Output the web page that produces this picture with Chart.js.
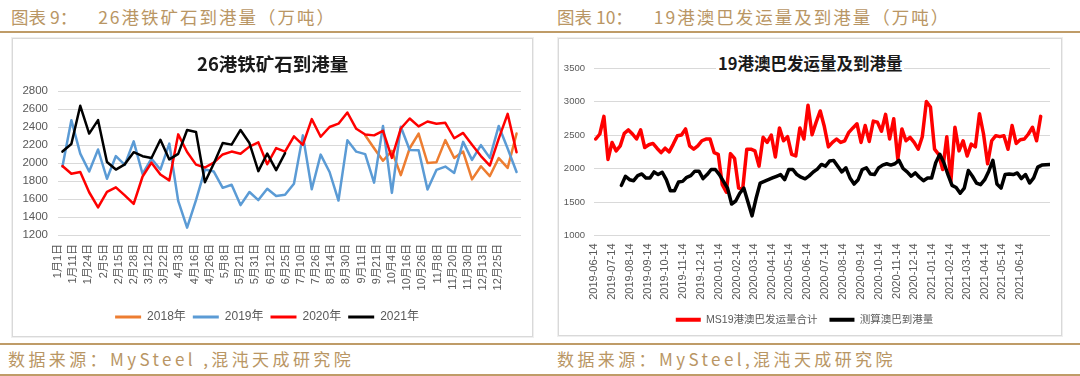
<!DOCTYPE html>
<html>
<head>
<meta charset="utf-8">
<script src="https://cdn.jsdelivr.net/npm/chart.js@4.4.1/dist/chart.umd.min.js"></script>
<style>
  html, body { margin: 0; padding: 0; background: #fff; }
  body { width: 1080px; height: 376px; position: relative; overflow: hidden; font-family: 'Noto Sans CJK SC', sans-serif; }
  .head { position: absolute; top: 5px; font-size: 17.5px; color: #b99664; white-space: nowrap; line-height: 24px; }
  .head span { letter-spacing: 2px; }
  .rule { position: absolute; left: 0; width: 1080px; height: 2px; background: #bf9c68; }
  .box { position: absolute; border: 1px solid #d9d9d9; box-shadow: 0 0 0 1px #efefef; background: #fff; }
  .box canvas { position: absolute; left: 0; top: 0; }
  .ctitle { position: absolute; font-weight: bold; color: #1a1a1a; white-space: nowrap; background: #fff; line-height: 24px; padding: 0 2px; }
  .foot { position: absolute; top: 347px; font-size: 17px; letter-spacing: 3.4px; color: #b99664; white-space: nowrap; line-height: 24px; }
</style>
</head>
<body>
<div class="head" style="left:11px">图表 9：<span style="margin-left:21px">26港铁矿石到港量（万吨）</span></div>
<div class="head" style="left:557px">图表 10：<span style="margin-left:21px">19港澳巴发运量及到港量（万吨）</span></div>
<div class="rule" style="top:31px"></div>

<div class="box" style="left:12px;top:38px;width:519px;height:297px">
  <canvas id="portChart" width="519" height="297"></canvas>
  <div class="ctitle" style="left:182px;top:12px;font-size:18.5px">26港铁矿石到港量</div>
</div>
<div class="box" style="left:558px;top:38px;width:502px;height:296px">
  <canvas id="ausBraChart" width="502" height="296"></canvas>
  <div class="ctitle" style="left:157px;top:12px;font-size:16.5px">19港澳巴发运量及到港量</div>
</div>

<div class="rule" style="top:343px"></div>
<div class="foot" style="left:8px">数据来源：MySteel ,混沌天成研究院</div>
<div class="foot" style="left:557px">数据来源：MySteel,混沌天成研究院</div>
<div class="rule" style="top:374px"></div>

<script>
// ---- 图表9 数据：26港铁矿石到港量（万吨），周度 ----
const dateLabels = ['1月1日', '1月11日', '1月24日', '2月5日', '2月15日', '2月28日', '3月12日', '3月22日',
  '4月3日', '4月16日', '4月26日', '5月8日', '5月21日', '5月31日', '6月12日', '6月25日', '7月10日', '7月26日',
  '8月14日', '8月30日', '9月11日', '9月21日', '10月4日', '10月16日', '10月26日', '11月8日', '11月20日',
  '11月30日', '12月13日', '12月25日'];
const portTicks = [1200, 1400, 1600, 1800, 2000, 2200, 2400, 2600, 2800];

const WEEKS = 52;
const LABEL_SLOTS = 30.5; // Excel 文本轴：30个标签均匀铺在约30.5格宽度上

const y2018 = [2309, 2164, 2025, 2135, 1865, 2164, 2327, 2000, 2007, 2254, 2055, 2127, 1818, 1964, 1855,
  2055, 1945, 2327];
const y2018Start = 34; // 2018年只有下半年数据
const y2019 = [1962, 2476, 2104, 1905, 2150, 1825, 2077, 1978, 2240, 1878, 2048, 1927, 2216, 1579, 1282,
  1588, 1927, 1905, 1724, 1758, 1532, 1678, 1588, 1714, 1634, 1648, 1770, 2307, 1709, 2093, 1900, 1583,
  2252, 2126, 2099, 1782, 2412, 1668, 2403, 2144, 2143, 1705, 1923, 1960, 1890, 2235, 2035, 2198, 2057,
  2412, 2162, 1900];
const y2020 = [1966, 1880, 1900, 1675, 1506, 1680, 1729, 1640, 1546, 1850, 2004, 1872, 1807, 2318, 2122,
  1982, 1950, 2004, 2095, 2127, 2102, 2182, 2229, 1986, 2166, 2126, 2296, 2202, 2488, 2292, 2400, 2437,
  2561, 2380, 2316, 2307, 2358, 2057, 2383, 2494, 2407, 2461, 2436, 2447, 2275, 2334, 2202, 2077, 1972,
  2271, 2546, 2120];
const y2021 = [2127, 2211, 2636, 2327, 2476, 2011, 1927, 1985, 2120, 2076, 2055, 2258, 2040, 2102, 2367,
  2345, 1786, 1995, 2222, 2204, 2367, 2222, 1910, 2105, 1920, 2109];

// ---- 图表10 数据：19港澳巴发运量及到港量（万吨），周度 ----
const monthLabels = ['2019-06-14', '2019-07-14', '2019-08-14', '2019-09-14', '2019-10-14', '2019-11-14',
  '2019-12-14', '2020-01-14', '2020-02-14', '2020-03-14', '2020-04-14', '2020-05-14', '2020-06-14',
  '2020-07-14', '2020-08-14', '2020-09-14', '2020-10-14', '2020-11-14', '2020-12-14', '2021-01-14',
  '2021-02-14', '2021-03-14', '2021-04-14', '2021-05-14', '2021-06-14'];
const shipTicks = [1000, 1500, 2000, 2500, 3000, 3500];

const shipStart = '2019-06-17';
const shipments = [2440, 2515, 2778, 2136, 2389, 2263, 2338, 2525, 2576, 2515, 2440, 2576, 2313, 2354, 2374,
  2303, 2237, 2303, 2248, 2364, 2490, 2500, 2591, 2338, 2288, 2338, 2414, 2440, 2440, 2237, 2212, 1758,
  1647, 2222, 2152, 1707, 1692, 2288, 2288, 2263, 2035, 2465, 2389, 2500, 2172, 2606, 2414, 2475, 2212,
  2187, 2606, 2440, 2944, 2505, 2692, 2859, 2626, 2323, 2389, 2440, 2389, 2414, 2540, 2606, 2667, 2389,
  2641, 2404, 2707, 2692, 2556, 2808, 2440, 2742, 2136, 2591, 2414, 2465, 2389, 2288, 2475, 3000, 2919,
  2288, 2212, 1985, 2475, 1808, 2616, 2263, 2414, 2187, 2364, 2323, 2818, 2515, 2071, 2414, 2490, 2475,
  2490, 2288, 2641, 2374, 2430, 2440, 2515, 2616, 2414, 2778];
const arriveStart = '2019-07-31';
const arrivals = [1748, 1884, 1833, 1818, 1894, 1919, 1859, 1859, 1949, 1909, 1944, 1833, 1667, 1667, 1798,
  1808, 1869, 1894, 1960, 1960, 1849, 1909, 1985, 1985, 1909, 1808, 1707, 1470, 1515, 1631, 1707, 1500,
  1293, 1556, 1783, 1808, 1833, 1859, 1884, 1909, 1833, 1985, 1985, 1909, 1870, 1846, 1890, 1947, 1990,
  2061, 2035, 2111, 2121, 2035, 1949, 2010, 1859, 1768, 1833, 1985, 2010, 1919, 1909, 2010, 2051, 2071,
  2051, 2071, 2121, 2000, 1949, 1884, 1934, 1869, 1818, 1859, 1859, 2086, 2212, 2086, 1909, 1748, 1717,
  1631, 1707, 1970, 1884, 1783, 1758, 1833, 1960, 2121, 1768, 1707, 1909, 1919, 1909, 1934, 1849, 1909,
  1783, 1859, 2020, 2051, 2055, 2060];

const tickColor = '#595959';
const gridColor = '#d9d9d9';
const latin = "'Liberation Sans', 'Noto Sans CJK SC', sans-serif";

const noBorderLegend = (chart) =>
  Chart.defaults.plugins.legend.labels.generateLabels(chart).map(l => ({ ...l, lineWidth: 0 }));

const lineSet = (label, data, color, width, order) => ({
  label: label,
  data: data,
  borderColor: color,
  backgroundColor: color,
  borderWidth: width,
  pointRadius: 0,
  tension: 0,
  borderJoinStyle: 'round',
  borderCapStyle: 'round',
  order: order,
});

// 图表9
const weekPoints = (values, firstWeek) => values.map((v, i) => ({ x: firstWeek + i + 0.5, y: v }));

new Chart(document.getElementById('portChart'), {
  type: 'line',
  data: {
    datasets: [
      lineSet('2018年', weekPoints(y2018, y2018Start), '#ed7d31', 2.5, 3),
      lineSet('2019年', weekPoints(y2019, 0), '#5b9bd5', 2.5, 2),
      lineSet('2020年', weekPoints(y2020, 0), '#ff0000', 2.5, 1),
      lineSet('2021年', weekPoints(y2021, 0), '#000000', 2.5, 0),
    ],
  },
  options: {
    responsive: false,
    animation: false,
    layout: { padding: { top: 52, right: 11, left: 0, bottom: 3 } },
    scales: {
      x: {
        type: 'linear',
        min: 0,
        max: WEEKS,
        grid: { display: false, drawTicks: false },
        border: { display: false },
        afterBuildTicks: (scale) => {
          scale.ticks = dateLabels.map((_, k) => ({ value: k * WEEKS / LABEL_SLOTS }));
        },
        afterFit: (scale) => { scale.height = 69; },
        ticks: {
          autoSkip: false,
          minRotation: 90,
          maxRotation: 90,
          padding: 9,
          color: tickColor,
          font: { family: latin, size: 11 },
          callback: (v, i) => dateLabels[i],
        },
      },
      y: {
        min: 1200,
        max: 2800,
        afterBuildTicks: (scale) => { scale.ticks = portTicks.map(v => ({ value: v })); },
        afterFit: (scale) => { scale.width = 45; },
        grid: { color: gridColor, drawTicks: false },
        border: { display: false },
        ticks: { padding: 10, color: tickColor, font: { family: latin, size: 11.5 }, callback: v => String(v) },
      },
    },
    plugins: {
      title: { display: false },
      tooltip: { enabled: false },
      legend: {
        position: 'bottom',
        labels: {
          boxWidth: 26,
          boxHeight: 3,
          padding: 7,
          color: tickColor,
          font: { family: latin, size: 12 },
          generateLabels: noBorderLegend,
          sort: (a, b) => a.datasetIndex - b.datasetIndex,
        },
      },
    },
  },
});

// 图表10
const dayOf = (s) => (Date.parse(s) - Date.parse(monthLabels[0])) / 864e5;
const weeklyFrom = (start, values) => values.map((v, i) => ({ x: dayOf(start) + 7 * i, y: v }));
const lastDay = dayOf(arriveStart) + 7 * (arrivals.length - 1);

new Chart(document.getElementById('ausBraChart'), {
  type: 'line',
  data: {
    datasets: [
      lineSet('MS19港澳巴发运量合计', weeklyFrom(shipStart, shipments), '#ff0000', 3.5, 1),
      lineSet('测算澳巴到港量', weeklyFrom(arriveStart, arrivals), '#000000', 3.5, 0),
    ],
  },
  options: {
    responsive: false,
    animation: false,
    layout: { padding: { top: 29, right: 11, left: 0, bottom: 0 } },
    scales: {
      x: {
        type: 'linear',
        min: 0,
        max: lastDay,
        grid: { display: false, drawTicks: false },
        border: { display: false },
        afterBuildTicks: (scale) => {
          scale.ticks = monthLabels.map(d => ({ value: dayOf(d) }));
        },
        afterFit: (scale) => { scale.height = 67; },
        ticks: {
          autoSkip: false,
          minRotation: 90,
          maxRotation: 90,
          padding: 8,
          color: tickColor,
          font: { family: latin, size: 11 },
          callback: (v, i) => monthLabels[i],
        },
      },
      y: {
        min: 1000,
        max: 3500,
        afterBuildTicks: (scale) => { scale.ticks = shipTicks.map(v => ({ value: v })); },
        afterFit: (scale) => { scale.width = 35; },
        grid: { color: gridColor, drawTicks: false },
        border: { display: false },
        ticks: { padding: 9, color: tickColor, font: { family: latin, size: 9.5 }, callback: v => String(v) },
      },
    },
    plugins: {
      title: { display: false },
      tooltip: { enabled: false },
      legend: {
        position: 'bottom',
        labels: {
          boxWidth: 25,
          boxHeight: 4,
          padding: 12,
          color: tickColor,
          font: { family: latin, size: 10.5 },
          generateLabels: noBorderLegend,
          sort: (a, b) => a.datasetIndex - b.datasetIndex,
        },
      },
    },
  },
});
</script>
</body>
</html>
